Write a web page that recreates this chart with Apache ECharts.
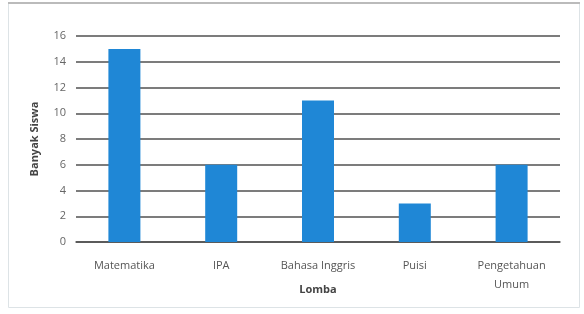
<!DOCTYPE html>
<html>
<head>
<meta charset="utf-8">
<script src="https://cdn.jsdelivr.net/npm/echarts@6/dist/echarts.min.js"></script>
<style>html,body{margin:0;padding:0;background:#fff}#c{width:584px;height:314px}</style>
</head>
<body>
<div id="c"></div>
<script>
const categories = ['Matematika', 'IPA', 'Bahasa Inggris', 'Puisi', 'Pengetahuan\nUmum'];
const values = [15, 6, 11, 3, 6];
const yTicks = [0, 2, 4, 6, 8, 10, 12, 14, 16];

const chart = echarts.init(document.getElementById('c'));
chart.setOption({
  animation: false,
  backgroundColor: '#fff',
  graphic: [
    { type: 'rect', shape: { x: 8.5, y: 3.5, width: 571, height: 304 }, style: { fill: 'none', stroke: '#dde3e6', lineWidth: 1 }, z: -10 },
    { type: 'line', shape: { x1: 8, y1: 3, x2: 580, y2: 3 }, style: { stroke: '#bbb', lineWidth: 2 }, z: -9 }
  ],
  grid: { left: 76, right: 24, top: 36, bottom: 72 },
  xAxis: {
    type: 'category',
    data: categories,
    name: 'Lomba',
    nameLocation: 'middle',
    nameGap: 42,
    nameMoveOverlap: false,
    nameTextStyle: { fontFamily: 'Open Sans', fontWeight: 'bold', fontSize: 11, color: '#444' },
    axisLine: { show: true, lineStyle: { color: '#505050', width: 1.5 } },
    axisTick: { show: false },
    axisLabel: { fontFamily: 'Open Sans', fontSize: 11, color: '#555', margin: 14, lineHeight: 19, interval: 0 }
  },
  yAxis: {
    type: 'value',
    min: 0, max: 16, interval: 2,
    name: 'Banyak Siswa',
    nameLocation: 'middle',
    nameGap: 36,
    nameMoveOverlap: false,
    nameTextStyle: { fontFamily: 'Open Sans', fontWeight: 'bold', fontSize: 11, color: '#444' },
    axisLine: { show: false },
    axisTick: { show: false },
    splitLine: { lineStyle: { color: '#505050', width: 1.5 } },
    axisLabel: { fontFamily: 'Open Sans', fontSize: 11, color: '#666', margin: 10,
      formatter: v => yTicks.includes(v) ? String(v) : '' }
  },
  series: [{
    type: 'bar',
    data: values,
    barWidth: 32,
    itemStyle: { color: '#1f87d6' }
  }]
});
</script>
</body>
</html>
